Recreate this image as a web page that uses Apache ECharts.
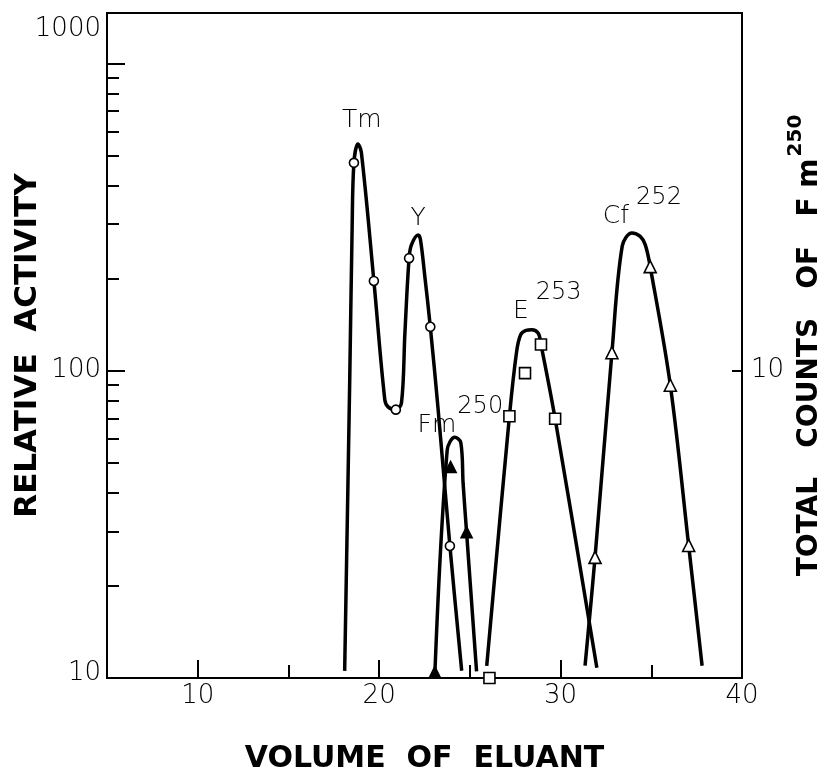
<!DOCTYPE html>
<html><head><meta charset="utf-8">
<script src="https://cdn.jsdelivr.net/npm/echarts@6/dist/echarts.min.js"></script>
<style>html,body{margin:0;padding:0;background:#fff}#c{width:825px;height:779px}</style>
</head><body><div id="c"></div>
<script>
// ---- axis ticks / labels ----
const xMajorTicks = [10, 20, 30];
const xMinorTicks = [15, 25, 35];
const xLabels = [10, 20, 30, 40];
const yMajorTicks = [100, 1000];
const yMinorTicks = [20, 30, 40, 50, 60, 70, 80, 90, 200, 300, 400, 500, 600, 700, 800, 900];
const yLabels = [10, 100, 1000];
const rightTicks = [10];

// ---- Tm / Y curve (relative activity) ----
const tmYCurveX = [18.10, 18.38, 18.51, 18.61, 18.83, 19.02, 19.71, 20.31, 20.49, 20.92, 21.23, 21.42, 21.65, 21.78, 22.15, 22.28, 22.52, 22.82, 23.24, 23.90, 24.55];
const tmYCurveY = [10.55, 94.1, 289.5, 474.8, 547, 513.5, 195.9, 80.6, 76.3, 74.7, 78.5, 132.6, 232.5, 256.9, 276.7, 266.6, 202.3, 139, 76.1, 26.9, 10.56];
const tmYPointsX = [18.61, 19.71, 20.92, 21.65, 22.82, 23.90];
const tmYPointsY = [475, 196, 74.7, 232.5, 139, 26.9];

// ---- Fm250 (total counts, right axis) ----
const fmCurveX = [23.07, 23.75, 24.17, 24.50, 24.63, 24.82, 25.37];
const fmCurveY = [1.03, 5.51, 6.08, 5.84, 4.28, 2.98, 1.05];
const fmPointsX = [23.07, 23.94, 24.82];
const fmPointsY = [1.045, 4.86, 2.98];

// ---- E253 ----
const eCurveX = [25.93, 27.18, 27.58, 27.80, 28.10, 28.41, 28.77, 28.92, 29.70, 32.0];
const eCurveY = [10.95, 71.1, 115.7, 131.0, 135.3, 135.9, 132.4, 121.8, 69.8, 10.8];
const ePointsX = [26.08, 27.18, 28.04, 28.92, 29.70];
const ePointsY = [10.0, 71.1, 98.2, 121.8, 69.8];

// ---- Cf252 ----
const cfCurveX = [31.35, 31.90, 32.83, 33.40, 33.93, 34.39, 34.67, 34.94, 36.05, 37.06, 37.80];
const cfCurveY = [10.97, 24.7, 114.5, 254.9, 280.7, 273.7, 256.8, 218.2, 89.7, 27.0, 10.96];
const cfPointsX = [31.90, 32.83, 34.94, 36.05, 37.06];
const cfPointsY = [24.7, 114.5, 218.2, 89.7, 27.0];

// ---- peak labels: text and anchor in data coordinates ----
const peakNames = ['Tm', 'Y', 'E', 'Cf', 'Fm'];
const peakSups = ['', '', '253', '252', '250'];
const peakAnchorX = [19.04, 22.15, 27.38, 32.33, 22.12];
const peakAnchorY = [650, 312, 142.0, 289.5, 60.4];

const zip = (xs, ys) => xs.map((x, i) => [x, ys[i]]);
const INK = '#000';
const LABEL_FONT = 'DejaVu Sans';
const LOG_MIN = 1, LOG_MAX = Math.log10(1460);

const chart = echarts.init(document.getElementById('c'), null, {renderer: 'canvas'});

function curve(name, xs, ys, yIdx) {
  return {
    name, type: 'line', xAxisIndex: 0, yAxisIndex: yIdx || 0,
    data: zip(xs, ys), smooth: 0.35, showSymbol: false, symbol: 'none',
    lineStyle: {color: INK, width: 3.5}, z: 2, clip: false, silent: true
  };
}
function marks(name, xs, ys, symbol, size, filled, yIdx) {
  return {
    name, type: 'scatter', xAxisIndex: 0, yAxisIndex: yIdx || 0,
    data: zip(xs, ys), symbol, symbolSize: size, clip: false, z: 5, silent: true,
    itemStyle: {color: filled ? INK : '#fff', borderColor: INK, borderWidth: 1.6, opacity: 1}
  };
}

const labelStyle = {fontFamily: LABEL_FONT, fontSize: 26, color: INK, fontWeight: 300};
const titleStyle = {fontFamily: 'DejaVu Sans', fontSize: 30, fontWeight: 'bold', color: INK};

chart.setOption({
  animation: false,
  backgroundColor: '#fff',
  grid: {left: 107, right: 83, top: 13, bottom: 101, show: true, borderColor: INK, borderWidth: 2,
         containLabel: false, outerBoundsMode: 'none'},
  xAxis: [
    {
      type: 'value', min: 5, max: 40, interval: 5, position: 'bottom',
      axisLine: {lineStyle: {color: INK, width: 2}},
      axisTick: {inside: true, length: 18, customValues: xMajorTicks, lineStyle: {color: INK, width: 2}},
      axisLabel: Object.assign({customValues: xLabels, margin: 5}, labelStyle),
      splitLine: {show: false},
      name: 'VOLUME  OF  ELUANT', nameLocation: 'middle', nameGap: 66,
      nameTextStyle: titleStyle
    },
    {
      type: 'value', min: 5, max: 40, interval: 5, position: 'bottom',
      axisLine: {show: false},
      axisTick: {inside: true, length: 13, customValues: xMinorTicks, lineStyle: {color: INK, width: 2}},
      axisLabel: {show: false}, splitLine: {show: false}
    }
  ],
  yAxis: [
    {
      type: 'log', logBase: 10, min: 10, max: 1460, position: 'left',
      axisLine: {show: true, lineStyle: {color: INK, width: 2}},
      axisTick: {show: true, inside: true, length: 18, customValues: yMajorTicks, lineStyle: {color: INK, width: 2}},
      axisLabel: Object.assign({
        customValues: yLabels, margin: 6,
        formatter: v => v === 1000 ? '{t|1000}' : (v === 10 ? '{b|10}' : String(v)),
        rich: {
          t: {padding: [0, 0, 69, 0], fontFamily: LABEL_FONT, fontSize: 26, fontWeight: 300, color: INK},
          b: {padding: [0, 0, 10, 0], fontFamily: LABEL_FONT, fontSize: 26, fontWeight: 300, color: INK}
        }
      }, labelStyle),
      splitLine: {show: false}, minorTick: {show: false},
      name: 'RELATIVE  ACTIVITY', nameLocation: 'middle', nameGap: 64, nameRotate: 90,
      nameMoveOverlap: false,
      nameTextStyle: Object.assign({}, titleStyle, {fontSize: 31})
    },
    {
      type: 'log', logBase: 10, min: 1, max: 146, position: 'right',
      axisLine: {show: true, lineStyle: {color: INK, width: 2}},
      axisTick: {show: true, inside: true, length: 10, customValues: rightTicks, lineStyle: {color: INK, width: 2}},
      axisLabel: Object.assign({customValues: rightTicks, margin: 9}, labelStyle),
      splitLine: {show: false},
      name: '{n|TOTAL   COUNTS   OF   F m}{s|250}', nameLocation: 'middle', nameGap: 54, nameRotate: 90,
      nameMoveOverlap: false,
      nameTextStyle: {
        fontFamily: 'DejaVu Sans', fontSize: 28, fontWeight: 'bold', color: INK,
        rich: {
          n: {fontFamily: 'DejaVu Sans', fontSize: 28, fontWeight: 'bold', color: INK, lineHeight: 28, verticalAlign: 'bottom'},
          s: {fontFamily: 'DejaVu Sans', fontSize: 20, fontWeight: 'bold', color: INK, lineHeight: 20, verticalAlign: 'bottom', padding: [0, 0, 18, 2]}
        }
      }
    },
    {
      // tick-only axis for the minor log ticks (positions are log10 of yMinorTicks)
      type: 'value', min: LOG_MIN, max: LOG_MAX, position: 'left',
      axisLine: {show: false},
      axisTick: {show: true, inside: true, length: 12, customValues: yMinorTicks.map(v => Math.log10(v)), lineStyle: {color: INK, width: 2}},
      axisLabel: {show: false}, splitLine: {show: false}
    }
  ],
  series: [
    curve('Tm-Y', tmYCurveX, tmYCurveY, 0),
    curve('Fm250', fmCurveX, fmCurveY, 1),
    curve('E253', eCurveX, eCurveY, 0),
    curve('Cf252', cfCurveX, cfCurveY, 0),
    marks('Tm-Y points', tmYPointsX, tmYPointsY, 'circle', 9, false, 0),
    marks('Fm250 points', fmPointsX, fmPointsY, 'triangle', 11, true, 1),
    marks('E253 points', ePointsX, ePointsY, 'rect', 11, false, 0),
    marks('Cf252 points', cfPointsX, cfPointsY, 'triangle', 12, false, 0)
  ]
});

// peak labels positioned through the chart's own scales
const graphics = peakNames.map((name, i) => {
  const sup = peakSups[i];
  const p = chart.convertToPixel({xAxisIndex: 0, yAxisIndex: 0}, [peakAnchorX[i], peakAnchorY[i]]);
  const supGap = name === 'Fm' ? 1 : 7;
  return {
    type: 'text', x: p[0], y: p[1], z: 10, silent: true,
    style: {
      text: sup ? '{m|' + name + '}{s|' + sup + '}' : '{m|' + name + '}',
      align: sup ? 'left' : 'center', verticalAlign: sup ? 'bottom' : 'middle',
      rich: {
        m: {fontFamily: LABEL_FONT, fontSize: 25, fontWeight: 300, fill: INK, lineHeight: 25, verticalAlign: 'bottom'},
        s: {fontFamily: LABEL_FONT, fontSize: 24, fontWeight: 300, fill: INK, lineHeight: 24, verticalAlign: 'bottom', padding: [0, 0, 19, supGap]}
      }
    }
  };
});
chart.setOption({graphic: graphics});
</script></body></html>
